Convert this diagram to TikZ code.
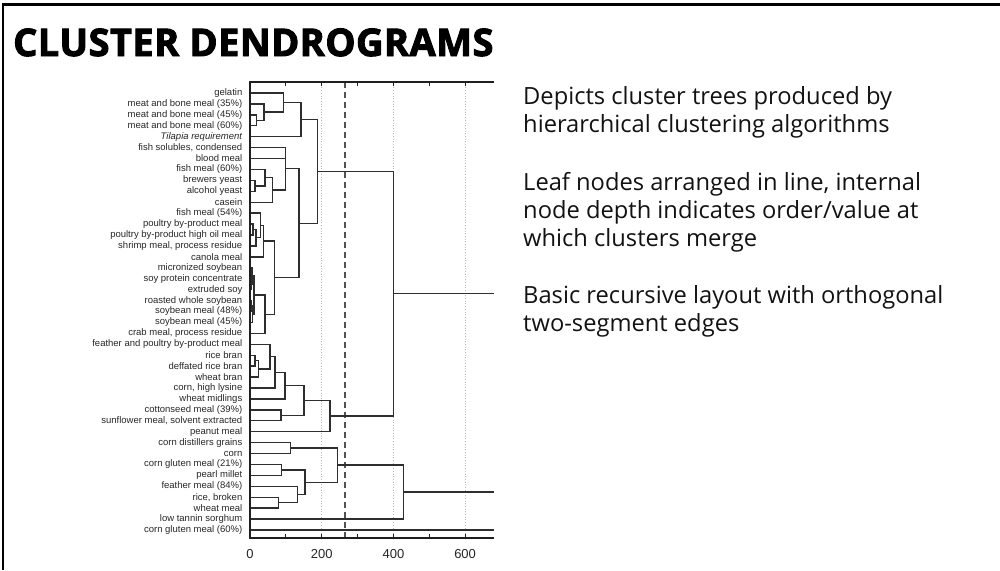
\documentclass[tikz,border=0pt]{standalone}
\usepackage{fontspec}
\setmainfont{Open Sans}
\newfontfamily\labelfont{Liberation Sans}
\newfontfamily\titlefont{Open Sans}[UprightFont={* Bold}, UprightFeatures={FakeBold=2.6}, LetterSpace=1.2]
\usetikzlibrary{calc}

% internal node #1 at height #2 (pt) joining children #3 and #4 with elbow edges
\newcommand\mergeto[4]{%
  \path let \p1=(#3), \p2=(#4) in ({#2pt},{0.5*(\y1+\y2)}) coordinate (#1);%
  \draw[branch] (#3) -| (#1) (#4) -| (#1);}

\begin{document}
\begin{tikzpicture}[x=1pt,y=-1pt,
  branch/.style={draw=black!82, line width=1.4pt},
  axisline/.style={draw=black!88, line width=1.5pt},
  gridline/.style={draw=black!28, line width=0.7pt, dotted},
  cutline/.style={draw=black!68, line width=1.7pt, dash pattern=on 6pt off 4pt},
  leaflabel/.style={anchor=east, inner sep=0pt, text=black!85,
    font=\labelfont\fontsize{9.5}{10}\selectfont},
  ticklabel/.style={anchor=base, inner sep=0pt, text=black!85,
    font=\labelfont\fontsize{13}{13}\selectfont},
  bodytext/.style={anchor=north west, inner sep=0pt, align=left, text=black!93,
    font=\fontsize{23.7}{28}\selectfont},
  titletext/.style={anchor=base west, inner sep=0pt,
    font=\titlefont\fontsize{38}{40}\selectfont},
]
\useasboundingbox (0,0) rectangle (1000,570);

% slide frame (left and top edges)
\draw[line width=2.4pt] (3,570) -- (3,4.6) -- (1000,4.6);

\node[titletext] (title) at (13,56) {CLUSTER DENDROGRAMS};

\node[bodytext] (d1) at (523,86) {Depicts cluster trees produced by\\hierarchical clustering algorithms};
\node[bodytext] (d2) at (523,172) {Leaf nodes arranged in line, internal\\node depth indicates order/value at\\which clusters merge};
\node[bodytext] (d3) at (523,285) {Basic recursive layout with orthogonal\\two-segment edges};

% plot area corners
\coordinate (ax0) at (250,82);
\coordinate (ax1) at (494,82);
\coordinate (ay0) at (250,538);
\coordinate (ay1) at (494,538);

% grid, ticks and tick labels (distance axis: 0.3585 px per unit)
\foreach \v in {200,400,600}
  \draw[gridline] ({250+\v*0.3585},82) -- ({250+\v*0.3585},538);
\foreach \v in {100,200,...,600}{
  \draw[axisline, line width=1.1pt] ({250+\v*0.3585},82) -- ({250+\v*0.3585},86);
  \draw[axisline, line width=1.1pt] ({250+\v*0.3585},538) -- ({250+\v*0.3585},534);
}
\foreach \v in {0,200,400,600}
  \node[ticklabel] (tick\v) at ({250+\v*0.3585},558.5) {\v};

% cut level
\draw[cutline] (345,82) -- (345,538);

% leaves
\foreach \i/\t in {
  1/gelatin,
  2/meat and bone meal (35\%),
  3/meat and bone meal (45\%),
  4/meat and bone meal (60\%),
  5/\textit{Tilapia requirement},
  6/{fish solubles, condensed},
  7/blood meal,
  8/fish meal (60\%),
  9/brewers yeast,
  10/alcohol yeast,
  11/casein,
  12/fish meal (54\%),
  13/poultry by-product meal,
  14/poultry by-product high oil meal,
  15/{shrimp meal, process residue},
  16/canola meal,
  17/micronized soybean,
  18/soy protein concentrate,
  19/extruded soy,
  20/roasted whole soybean,
  21/soybean meal (48\%),
  22/soybean meal (45\%),
  23/{crab meal, process residue},
  24/feather and poultry by-product meal,
  25/rice bran,
  26/deffated rice bran,
  27/wheat bran,
  28/{corn, high lysine},
  29/wheat midlings,
  30/cottonseed meal (39\%),
  31/{sunflower meal, solvent extracted},
  32/peanut meal,
  33/corn distillers grains,
  34/corn,
  35/corn gluten meal (21\%),
  36/pearl millet,
  37/feather meal (84\%),
  38/{rice, broken},
  39/wheat meal,
  40/low tannin sorghum,
  41/corn gluten meal (60\%)}{
  \node[leaflabel] (t\i) at (242.5,{93+(\i-1)*10.925}) {\t};
  \coordinate (p\i) at (250,{93+(\i-1)*10.925});
}

% upper cluster
\mergeto{mA1}{256.7}{p3}{p4}
\mergeto{mA2}{264}{p2}{mA1}
\mergeto{mA3}{283.3}{p1}{mA2}
\mergeto{mA}{301}{mA3}{p5}
\mergeto{mB1}{255}{p9}{p10}
\mergeto{mB2}{265}{p8}{mB1}
\mergeto{mB3}{272.3}{mB2}{p11}
\mergeto{mB}{285.7}{p6}{mB3}
\draw[branch] (p7) -| (mB);
\mergeto{mC1}{253}{p13}{p14}
\mergeto{mC2}{256}{mC1}{p15}
\mergeto{mC3}{260.7}{p12}{mC2}
\mergeto{mC}{263.3}{mC3}{p16}
\mergeto{mD1}{251}{p18}{p19}
\mergeto{mD2}{252}{p17}{mD1}
\mergeto{mD3}{251.5}{p20}{p21}
\mergeto{mD4}{252.5}{mD3}{p22}
\mergeto{mD5}{254}{mD2}{mD4}
\mergeto{mD}{265}{mD5}{p23}
\mergeto{mCD}{274.3}{mC}{mD}
\mergeto{mBCD}{299}{mB}{mCD}
\mergeto{mTop}{317.3}{mA}{mBCD}
\mergeto{mE1}{255}{p25}{p26}
\mergeto{mE2}{258.3}{mE1}{p27}
\mergeto{mE3}{270}{p24}{mE2}
\mergeto{mE4}{275}{mE3}{p28}
\mergeto{mE5}{285}{mE4}{p29}
\mergeto{mE6}{281}{p30}{p31}
\mergeto{mE7}{304}{mE5}{mE6}
\mergeto{mE}{330}{mE7}{p32}
\mergeto{mUp}{393.3}{mTop}{mE}

% lower cluster
\mergeto{mF1}{290.7}{p33}{p34}
\mergeto{mF2}{281.7}{p35}{p36}
\mergeto{mF3}{278.3}{p38}{p39}
\mergeto{mF4}{297.3}{p37}{mF3}
\mergeto{mF5}{305}{mF2}{mF4}
\mergeto{mF}{337.7}{mF1}{mF5}
\mergeto{mLow}{403.3}{mF}{p40}

% branches running past the right edge of the plot
\coordinate (eUp) at (mUp -| ax1);
\coordinate (eLow) at (mLow -| ax1);
\coordinate (e41) at (p41 -| ax1);
\draw[branch] (mUp) -- (eUp);
\draw[branch] (mLow) -- (eLow);
\draw[branch] (p41) -- (e41);

% axes
\draw[axisline] (ax1) -- (ax0) -- (ay0) -- (ay1);
\end{tikzpicture}
\end{document}
